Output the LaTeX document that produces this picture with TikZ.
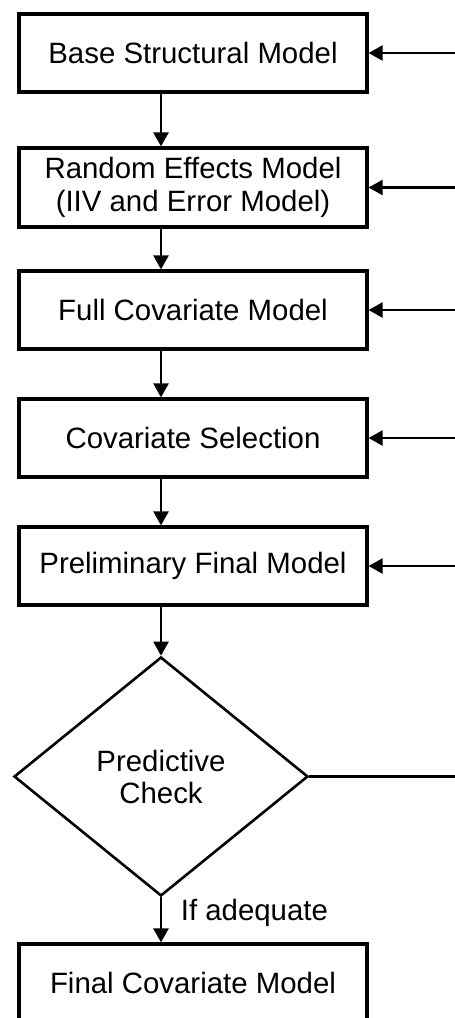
\documentclass[tikz,border=0pt]{standalone}
\usepackage{fontspec}
\setmainfont{Liberation Sans}
\usetikzlibrary{arrows.meta,shapes.geometric}

\begin{document}
\begin{tikzpicture}[
            x=0.5pt, y=-0.5pt,
            box/.style  ={draw, line width=1.6pt, minimum width=174pt, minimum height=39pt,
                          inner sep=0pt, align=center, font=\fontsize{14.7}{16.5}\selectfont},
            check/.style={diamond, draw, line width=1.3pt, minimum width=147pt, minimum height=119.5pt,
                          inner sep=0pt, align=center, font=\fontsize{14.7}{16}\selectfont},
            arr/.style  ={-{Triangle[length=7pt,width=7.5pt]}, line width=1.2pt},
            feed/.style ={line width=1.2pt}
        ]
            \useasboundingbox (0,0) rectangle (455,1018);
            \clip (0,0) rectangle (455,1018);

            %-----------------  Cajas del flujo  --------------------
            \node[box]   (base)   at (193,53)    {Base Structural Model};
            \node[box, minimum height=39.5pt]
                         (random) at (193,187.5) {Random Effects Model\\(IIV and Error Model)};
            \node[box]   (full)   at (193,310)   {Full Covariate Model};
            \node[box]   (select) at (193,438)   {Covariate Selection};
            \node[box]   (prelim) at (193,566)   {Preliminary Final Model};
            \node[check] (check)  at (161,776.5) {Predictive\\Check};
            \node[box]   (final)  at (193,983)   {Final Covariate Model};

            % Eje de las flechas verticales y borde derecho
            \coordinate (ax)   at (161,0);
            \coordinate (edge) at (455,0);

            %-----------------  Flechas hacia abajo  --------------------
            \draw[arr] (base.south -| ax)   -- (random.north -| ax);
            \draw[arr] (random.south -| ax) -- (full.north -| ax);
            \draw[arr] (full.south -| ax)   -- (select.north -| ax);
            \draw[arr] (select.south -| ax) -- (prelim.north -| ax);
            \draw[arr] (prelim.south -| ax) -- (check.north);
            \draw[arr] (check.south) -- node[right, xshift=6pt, yshift=3.5pt, font=\fontsize{14.7}{16}\selectfont]
                (ok) {If adequate} (final.north -| ax);

            %-----------------  Retorno desde la derecha  --------------------
            \draw[arr]  (base.east -| edge)   -- (base.east);
            \draw[arr]  (random.east -| edge) -- (random.east);
            \draw[arr]  (full.east -| edge)   -- (full.east);
            \draw[arr]  (select.east -| edge) -- (select.east);
            \draw[arr]  (prelim.east -| edge) -- (prelim.east);
            \draw[feed] (check.east) -- (check.east -| edge);
        \end{tikzpicture}
\end{document}
